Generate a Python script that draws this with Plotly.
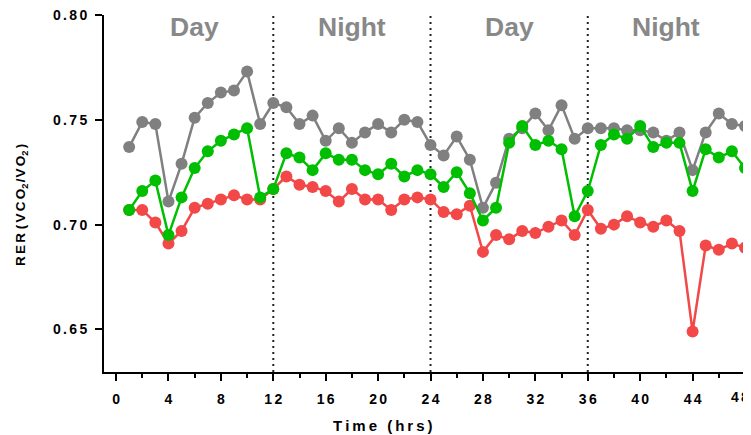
import plotly.graph_objects as go

hours = list(range(1, 49))

gray_vals = [0.737, 0.749, 0.748, 0.711, 0.729, 0.751, 0.758, 0.763, 0.764, 0.773,
             0.748, 0.758, 0.756, 0.748, 0.752, 0.740, 0.746, 0.739, 0.744, 0.748,
             0.744, 0.750, 0.749, 0.738, 0.733, 0.742, 0.731, 0.708, 0.720, 0.741,
             0.746, 0.753, 0.745, 0.757, 0.741, 0.746, 0.746, 0.746, 0.745, 0.745,
             0.744, 0.740, 0.744, 0.726, 0.744, 0.753, 0.748, 0.747]

green_vals = [0.707, 0.716, 0.721, 0.695, 0.713, 0.727, 0.735, 0.740, 0.743, 0.746,
              0.713, 0.717, 0.734, 0.732, 0.726, 0.734, 0.731, 0.731, 0.726, 0.724,
              0.729, 0.723, 0.726, 0.724, 0.718, 0.725, 0.715, 0.702, 0.708, 0.739,
              0.747, 0.738, 0.740, 0.736, 0.704, 0.716, 0.738, 0.743, 0.741, 0.747,
              0.737, 0.739, 0.739, 0.716, 0.736, 0.732, 0.735, 0.727]

red_vals = [0.707, 0.707, 0.701, 0.691, 0.697, 0.708, 0.710, 0.712, 0.714, 0.712,
            0.712, 0.717, 0.723, 0.719, 0.718, 0.716, 0.711, 0.717, 0.712, 0.712,
            0.707, 0.712, 0.713, 0.712, 0.706, 0.705, 0.709, 0.687, 0.695, 0.693,
            0.697, 0.696, 0.699, 0.702, 0.695, 0.707, 0.698, 0.700, 0.704, 0.701,
            0.699, 0.702, 0.697, 0.649, 0.690, 0.688, 0.691, 0.689]

x_ticks = [0, 4, 8, 12, 16, 20, 24, 28, 32, 36, 40, 44, 48]
y_ticks = [0.65, 0.70, 0.75, 0.80]
y_tick_labels = ["0.65", "0.70", "0.75", "0.80"]
boundaries = [12, 24, 36]
period_labels = ["Day", "Night", "Day", "Night"]
period_centers = [6, 18, 30, 42]

SP = "\u2009"      # thin space
SP6 = "\u2006"     # six-per-em space
HSP = "\u200A"     # hair space


def spaced(s, sep=SP):
    return sep.join(list(s))


FONT = "Liberation Sans, Arial, sans-serif"

# page has an 8px body margin; size the figure so it fills the window
PAGE_OFF = 8
W, H = 751 - PAGE_OFF, 435 - PAGE_OFF
ML, MR, MT, MB = 104 - PAGE_OFF, 6, 15 - PAGE_OFF, 63
PW, PH = W - ML - MR, H - MT - MB


def px(xp):
    return (xp - PAGE_OFF - ML) / PW


def py(yp):
    return (H - MB - (yp - PAGE_OFF)) / PH


fig = go.Figure()

for name, vals, color in [("red", red_vals, "#F24848"),
                          ("gray", gray_vals, "#808080"),
                          ("green", green_vals, "#00BF00")]:
    fig.add_trace(go.Scatter(
        x=hours, y=vals, mode="lines+markers", name=name,
        line=dict(color=color, width=2.5),
        marker=dict(color=color, size=12),
        cliponaxis=False, showlegend=False,
    ))

for b in boundaries:
    fig.add_shape(type="line", xref="x", yref="paper", x0=b, x1=b, y0=0, y1=1,
                  line=dict(color="#222222", width=2, dash="2px,4px"), layer="below")

for lab, c in zip(period_labels, period_centers):
    fig.add_annotation(x=c, y=0.7945, xref="x", yref="y", text=lab, showarrow=False,
                       font=dict(family=FONT, size=26.5, color="#888888", weight="bold"),
                       yanchor="middle", xanchor="center")

tick_font = dict(family=FONT, size=14, color="black", weight="bold")

# last x tick label is drawn as an annotation pulled inside the window edge
x_tick_text = [spaced(str(v), SP6) for v in x_ticks]
last_label = x_tick_text[-1]
x_tick_text[-1] = ""
fig.add_annotation(x=px(750), y=py(397), xref="paper", yref="paper", text=last_label,
                   showarrow=False, xanchor="right", yanchor="middle",
                   borderpad=0, font=tick_font)

fig.add_annotation(x=px(383), y=py(426), xref="paper", yref="paper",
                   text=spaced("Time (hrs)"), showarrow=False,
                   xanchor="center", yanchor="middle",
                   font=dict(family=FONT, size=15, color="black", weight="bold"))

y_title = (spaced("RER", SP6) + " " + "(" + SP6 + spaced("VCO", SP6) + "<sub>2</sub>"
           + HSP + "/" + HSP + spaced("VO", SP6) + "<sub>2</sub>" + SP6 + ")")

fig.add_annotation(x=px(21), y=py(205), xref="paper", yref="paper",
                   text=y_title, showarrow=False, textangle=-90,
                   xanchor="center", yanchor="middle",
                   font=dict(family=FONT, size=13.5, color="black", weight="bold"))

fig.update_layout(
    width=W, height=H,
    margin=dict(l=ML, r=MR, t=MT, b=MB, autoexpand=False),
    paper_bgcolor="white", plot_bgcolor="white",
    font=dict(family=FONT, size=14, color="black", weight="bold"),
    xaxis=dict(
        range=[-0.92, 48], showgrid=False, zeroline=False,
        showline=True, linecolor="black", linewidth=2,
        ticks="outside", ticklen=7, tickwidth=2, tickcolor="black",
        tickvals=x_ticks, ticktext=x_tick_text,
        ticklabelstandoff=6, ticklabeloverflow="allow",
        tickfont=tick_font,
        minor=dict(dtick=2, tick0=0, ticks="outside", ticklen=4, tickwidth=2,
                   tickcolor="black", showgrid=False),
    ),
    yaxis=dict(
        range=[0.6297, 0.80], showgrid=False, zeroline=False,
        showline=True, linecolor="black", linewidth=2,
        ticks="outside", ticklen=7, tickwidth=2, tickcolor="black",
        tickvals=y_ticks, ticktext=[spaced(t, SP6) for t in y_tick_labels],
        ticklabelstandoff=5, ticklabeloverflow="allow",
        tickfont=tick_font,
    ),
)

fig.write_html("out.html")
